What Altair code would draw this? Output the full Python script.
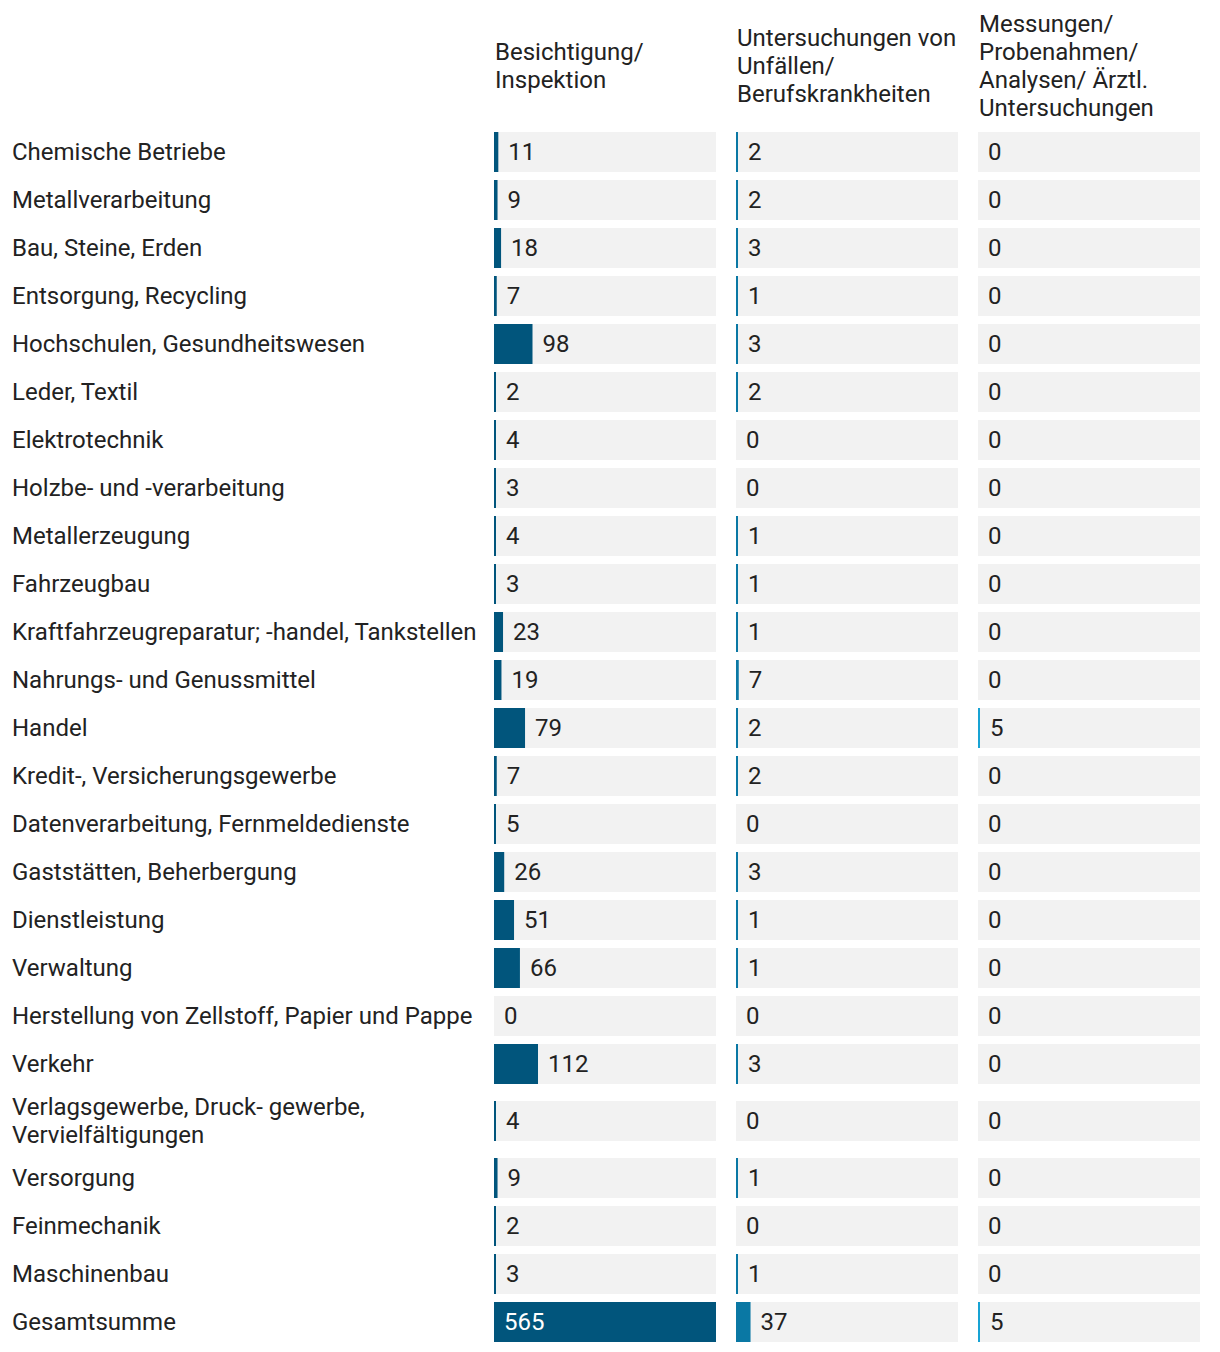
import altair as alt
import pandas as pd

categories = [
    "Chemische Betriebe",
    "Metallverarbeitung",
    "Bau, Steine, Erden",
    "Entsorgung, Recycling",
    "Hochschulen, Gesundheitswesen",
    "Leder, Textil",
    "Elektrotechnik",
    "Holzbe- und -verarbeitung",
    "Metallerzeugung",
    "Fahrzeugbau",
    "Kraftfahrzeugreparatur; -handel, Tankstellen",
    "Nahrungs- und Genussmittel",
    "Handel",
    "Kredit-, Versicherungsgewerbe",
    "Datenverarbeitung, Fernmeldedienste",
    "Gaststätten, Beherbergung",
    "Dienstleistung",
    "Verwaltung",
    "Herstellung von Zellstoff, Papier und Pappe",
    "Verkehr",
    "Verlagsgewerbe, Druck- gewerbe,\nVervielfältigungen",
    "Versorgung",
    "Feinmechanik",
    "Maschinenbau",
    "Gesamtsumme",
]

besichtigung = [11, 9, 18, 7, 98, 2, 4, 3, 4, 3, 23, 19, 79, 7, 5, 26, 51, 66, 0, 112, 4, 9, 2, 3, 565]
untersuchungen = [2, 2, 3, 1, 3, 2, 0, 0, 1, 1, 1, 7, 2, 2, 0, 3, 1, 1, 0, 3, 0, 1, 0, 1, 37]
messungen = [0, 0, 0, 0, 0, 0, 0, 0, 0, 0, 0, 0, 5, 0, 0, 0, 0, 0, 0, 0, 0, 0, 0, 0, 5]

headers = [
    "Besichtigung/\nInspektion",
    "Untersuchungen von\nUnfällen/\nBerufskrankheiten",
    "Messungen/\nProbenahmen/\nAnalysen/ Ärztl.\nUntersuchungen",
]
series = [besichtigung, untersuchungen, messungen]
colors = ["#01557c", "#0a78a4", "#18a3d4"]

FONT = "Roboto"
FS = 24
LH = 28
TEXT = "#222222"
BG = "#f2f2f2"

# layout of rows (derived from number of label lines)
HEADER_H = 120
HEADER_C = 59
BAR_H = 40
rows = []
top = HEADER_H
for i, c in enumerate(categories):
    n = c.count("\n") + 1
    pitch = max(48, n * LH + 10)
    center = top + pitch / 2
    rows.append({"idx": i, "category": c, "center": center,
                 "ty": center - (n - 1) * LH / 2})
    top += pitch
H = rows[-1]["center"] + BAR_H / 2

rows_df = pd.DataFrame(rows)
rows_df["b0"] = rows_df["center"] - BAR_H / 2
rows_df["b1"] = rows_df["center"] + BAR_H / 2

vmax = max(max(s) for s in series)
BAR_W = 222


def yscale():
    return alt.Scale(domain=[0, H], reverse=True, nice=False, zero=False)


def xscale():
    return alt.Scale(domain=[0, vmax], nice=False, zero=False)


# category label panel
label_panel = alt.Chart(rows_df).mark_text(
    align="left", baseline="middle", font=FONT, fontSize=FS, color=TEXT,
    lineBreak="\n", lineHeight=LH, dy=1,
).encode(
    x=alt.value(0),
    y=alt.Y("ty:Q", scale=yscale(), axis=None),
    text="category:N",
).properties(width=462, height=H)

panels = [label_panel]
for j, (hdr, vals, col) in enumerate(zip(headers, series, colors)):
    d = rows_df.copy()
    d["value"] = vals
    base = alt.Chart(d).transform_calculate(
        barend=f"datum.value > 0 ? max(datum.value, {vmax} * 0.009) : 0",
        inside=f"datum.value >= {vmax} * 0.5",
    ).transform_calculate(
        labelpos="datum.inside ? 0 : datum.barend",
    )
    bg = base.mark_rect(color=BG).encode(
        x=alt.X(datum=0, scale=xscale(), axis=None),
        x2=alt.X2(datum=vmax),
        y=alt.Y("b0:Q", scale=yscale(), axis=None),
        y2="b1:Q",
    )
    bars = base.transform_filter("datum.value > 0").mark_rect(color=col).encode(
        x=alt.X("barend:Q", scale=xscale(), axis=None),
        x2=alt.X2(datum=0),
        y=alt.Y("b0:Q", scale=yscale(), axis=None),
        y2="b1:Q",
    )
    txt = base.mark_text(
        align="left", baseline="middle", dx=10, dy=1, font=FONT, fontSize=FS,
    ).encode(
        x=alt.X("labelpos:Q", scale=xscale(), axis=None),
        y=alt.Y("center:Q", scale=yscale(), axis=None),
        text="value:Q",
        color=alt.condition("datum.inside", alt.value("#ffffff"), alt.value(TEXT)),
    )
    nlines = hdr.count("\n") + 1
    head_df = pd.DataFrame({"h": [hdr], "hy": [HEADER_C - (nlines - 1) * LH / 2]})
    head = alt.Chart(head_df).mark_text(
        align="left", baseline="middle", font=FONT, fontSize=FS, color=TEXT,
        lineBreak="\n", lineHeight=LH, dx=1,
    ).encode(
        x=alt.X(datum=0, scale=xscale(), axis=None),
        y=alt.Y("hy:Q", scale=yscale(), axis=None),
        text="h:N",
    )
    panels.append(alt.layer(bg, bars, txt, head).properties(width=BAR_W, height=H))

chart = alt.hconcat(*panels, spacing=20, bounds="flush").properties(
    padding={"left": 4, "top": 0, "right": 0, "bottom": 0},
    background="#ffffff",
).configure_view(stroke=None)

chart.save("out.html", embed_options={"renderer": "svg", "actions": False})
